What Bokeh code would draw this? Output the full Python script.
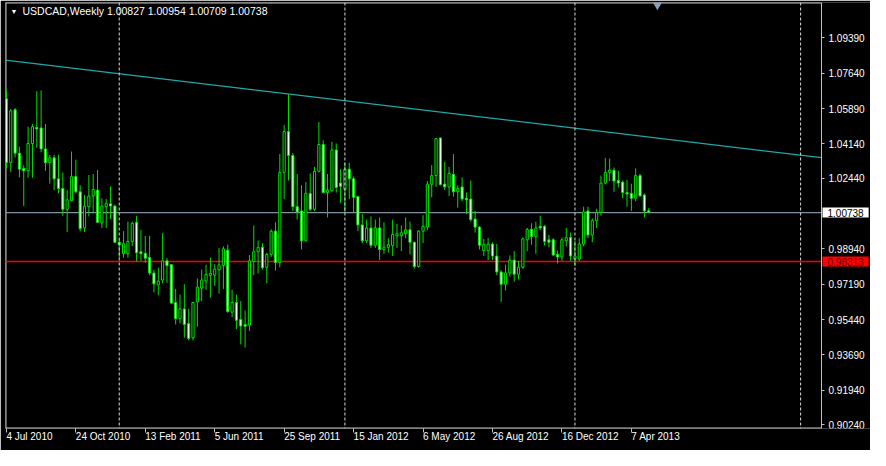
from bokeh.plotting import figure
from bokeh.models import Range1d, FixedTicker, Span, Label, ColumnDataSource
from bokeh.embed import file_html
from bokeh.resources import INLINE

chart_title = "USDCAD,Weekly"

opens = [
    1.0638, 1.0321, 1.0583, 1.0368, 1.0292, 1.0281, 1.0416, 1.0496, 1.0493, 1.0389,
    1.0321, 1.0345, 1.0241, 1.0193, 1.0090, 1.0133, 1.0252, 1.0177, 0.9998, 1.0103,
    1.0156, 1.0185, 1.0023, 1.0103, 1.0118, 1.0106, 0.9927, 0.9870, 0.9870, 0.9931,
    1.0026, 0.9880, 0.9872, 0.9851, 0.9775, 0.9716, 0.9740, 0.9835, 0.9816, 0.9629,
    0.9549, 0.9597, 0.9525, 0.9454, 0.9632, 0.9700, 0.9735, 0.9763, 0.9764, 0.9791,
    0.9812, 0.9888, 0.9581, 0.9629, 0.9545, 0.9520, 0.9517, 0.9832, 0.9880, 0.9902,
    0.9803, 0.9867, 0.9982, 0.9827, 1.0273, 1.0475, 1.0357, 1.0103, 1.0082, 0.9934,
    1.0169, 1.0090, 1.0278, 1.0411, 1.0173, 1.0182, 1.0384, 1.0220, 1.0188, 1.0289,
    1.0241, 1.0154, 1.0013, 0.9934, 0.9998, 0.9912, 0.9998, 0.9891, 0.9902, 0.9910,
    0.9959, 0.9959, 0.9970, 0.9989, 0.9927, 0.9807, 0.9982, 1.0002, 1.0214, 1.0257,
    1.0443, 1.0215, 1.0201, 1.0262, 1.0177, 1.0201, 1.0145, 1.0141, 1.0042, 1.0002,
    0.9886, 0.9886, 0.9918, 0.9859, 0.9780, 0.9719, 0.9775, 0.9839, 0.9769, 0.9803,
    0.9939, 0.9991, 0.9955, 1.0006, 1.0006, 0.9939, 0.9939, 0.9867, 0.9854, 0.9934,
    0.9950, 0.9843, 0.9843, 0.9918, 1.0082, 0.9963, 1.0034, 1.0074, 1.0220, 1.0273,
    1.0284, 1.0233, 1.0225, 1.0173, 1.0169, 1.0145, 1.0257, 1.0161, 1.00827,
]
highs = [
    1.0679, 1.0586, 1.0591, 1.0400, 1.0309, 1.0499, 1.0512, 1.0675, 1.0679, 1.0512,
    1.0360, 1.0360, 1.0360, 1.0273, 1.0185, 1.0376, 1.0336, 1.0209, 1.0161, 1.0260,
    1.0265, 1.0285, 1.0145, 1.0141, 1.0204, 1.0114, 0.9940, 0.9982, 1.0029, 1.0029,
    1.0058, 0.9989, 0.9958, 0.9959, 0.9791, 0.9801, 0.9974, 0.9848, 0.9819, 0.9696,
    0.9668, 0.9719, 0.9597, 0.9632, 0.9748, 0.9792, 0.9816, 0.9851, 0.9819, 0.9899,
    0.9907, 0.9915, 0.9692, 0.9668, 0.9636, 0.9589, 0.9864, 1.0010, 0.9936, 0.9923,
    0.9875, 0.9991, 1.0026, 1.0364, 1.0507, 1.0659, 1.0368, 1.0265, 1.0209, 1.0225,
    1.0268, 1.0300, 1.0523, 1.0432, 1.0265, 1.0424, 1.0416, 1.0289, 1.0321, 1.0321,
    1.0252, 1.0156, 1.0066, 1.0039, 1.0055, 1.0039, 1.0050, 1.0026, 0.9947, 1.0039,
    1.0018, 1.0010, 1.0050, 1.0029, 0.9930, 0.9987, 1.0061, 1.0230, 1.0309, 1.0443,
    1.0447, 1.0325, 1.0300, 1.0364, 1.0209, 1.0249, 1.0173, 1.0233, 1.0082, 1.0007,
    0.9944, 0.9947, 0.9927, 0.9918, 0.9788, 0.9816, 0.9862, 0.9883, 0.9835, 0.9950,
    0.9998, 1.0021, 1.0029, 1.0058, 1.0013, 0.9963, 0.9947, 0.9886, 0.9950, 0.9998,
    0.9975, 0.9934, 0.9947, 1.0103, 1.0103, 1.0045, 1.0093, 1.0257, 1.0345, 1.0341,
    1.0297, 1.0281, 1.0233, 1.0236, 1.0217, 1.0293, 1.0265, 1.0169, 1.00954,
]
lows = [
    1.0293, 1.0274, 1.0347, 1.0249, 1.0106, 1.0246, 1.0246, 1.0394, 1.0373, 1.0281,
    1.0217, 1.0185, 1.0169, 1.0058, 0.9978, 1.0130, 1.0169, 0.9982, 0.9978, 1.0055,
    1.0077, 1.0023, 0.9998, 0.9998, 1.0042, 0.9923, 0.9851, 0.9851, 0.9851, 0.9907,
    0.9832, 0.9835, 0.9826, 0.9764, 0.9679, 0.9664, 0.9724, 0.9727, 0.9621, 0.9520,
    0.9525, 0.9454, 0.9441, 0.9441, 0.9509, 0.9636, 0.9692, 0.9653, 0.9711, 0.9673,
    0.9696, 0.9578, 0.9557, 0.9498, 0.9422, 0.9406, 0.9488, 0.9764, 0.9772, 0.9791,
    0.9724, 0.9854, 0.9788, 0.9803, 1.0141, 1.0233, 1.0082, 1.0039, 0.9891, 0.9931,
    1.0082, 1.0082, 1.0273, 1.0169, 1.0050, 1.0177, 1.0173, 1.0122, 1.0074, 1.0141,
    1.0074, 0.9982, 0.9923, 0.9923, 0.9899, 0.9899, 0.9839, 0.9870, 0.9875, 0.9859,
    0.9899, 0.9883, 0.9947, 0.9867, 0.9796, 0.9801, 0.9923, 0.9987, 1.0150, 1.0201,
    1.0209, 1.0185, 1.0156, 1.0153, 1.0098, 1.0130, 1.0066, 1.0029, 0.9975, 0.9891,
    0.9859, 0.9839, 0.9839, 0.9764, 0.9632, 0.9689, 0.9756, 0.9732, 0.9743, 0.9796,
    0.9883, 0.9915, 0.9870, 0.9987, 0.9912, 0.9902, 0.9859, 0.9822, 0.9835, 0.9907,
    0.9835, 0.9811, 0.9835, 0.9907, 0.9947, 0.9927, 0.9998, 1.0058, 1.0214, 1.0230,
    1.0177, 1.0198, 1.0145, 1.0103, 1.0082, 1.0130, 1.0153, 1.0050, 1.00709,
]
closes = [
    1.0321, 1.0578, 1.0368, 1.0289, 1.0281, 1.0416, 1.0499, 1.0488, 1.0389, 1.0321,
    1.0345, 1.0241, 1.0193, 1.0090, 1.0137, 1.0252, 1.0177, 0.9994, 1.0106, 1.0156,
    1.0188, 1.0026, 1.0106, 1.0118, 1.0106, 0.9927, 0.9915, 0.9920, 0.9931, 1.0021,
    0.9875, 0.9870, 0.9848, 0.9775, 0.9721, 0.9735, 0.9835, 0.9811, 0.9626, 0.9549,
    0.9597, 0.9520, 0.9450, 0.9629, 0.9705, 0.9740, 0.9767, 0.9772, 0.9794, 0.9815,
    0.9894, 0.9584, 0.9629, 0.9541, 0.9512, 0.9511, 0.9835, 0.9880, 0.9902, 0.9801,
    0.9867, 0.9982, 0.9827, 1.0273, 1.0475, 1.0357, 1.0103, 1.0077, 0.9934, 1.0169,
    1.0090, 1.0278, 1.0411, 1.0173, 1.0185, 1.0384, 1.0198, 1.0204, 1.0289, 1.0241,
    1.0150, 1.0013, 0.9934, 0.9998, 0.9912, 0.9998, 0.9891, 0.9903, 0.9915, 0.9966,
    0.9969, 0.9974, 0.9989, 0.9927, 0.9807, 0.9982, 1.0006, 1.0214, 1.0257, 1.0440,
    1.0212, 1.0201, 1.0268, 1.0177, 1.0193, 1.0141, 1.0137, 1.0039, 1.0002, 0.9912,
    0.9915, 0.9918, 0.9859, 0.9780, 0.9719, 0.9775, 0.9839, 0.9769, 0.9803, 0.9944,
    0.9991, 0.9955, 0.9998, 0.9998, 0.9931, 0.9927, 0.9864, 0.9854, 0.9939, 0.9950,
    0.9859, 0.9859, 0.9918, 1.0077, 0.9963, 1.0034, 1.0074, 1.0220, 1.0273, 1.0284,
    1.0230, 1.0220, 1.0173, 1.0166, 1.0145, 1.0257, 1.0156, 1.0082, 1.00738,
]

date_ticks = [0, 16, 32, 48, 64, 80, 96, 112, 128, 144]
date_labels = ["4 Jul 2010", "24 Oct 2010", "13 Feb 2011", "5 Jun 2011", "25 Sep 2011",
               "15 Jan 2012", "6 May 2012", "26 Aug 2012", "16 Dec 2012", "7 Apr 2013"]
price_ticks = [0.90240, 0.91940, 0.93690, 0.95440, 0.97190, 0.98940,
               1.02440, 1.04140, 1.05890, 1.07640, 1.09390]
year_separators = [26, 78, 131, 183]
trend_idx = [0, 148]
trend_price = [1.0828, 1.0448]
bid_price = 1.00738
level_price = 0.98313

FONT = "Liberation Sans"
GREEN = "#00e000"
BORDER = "#c0c0c0"

# layout (pixels)
W, H = 870, 450
LEFT, TOP, BOTTOM = 5, 2, 21
FRAME_W = W - LEFT
FRAME_H = H - TOP - BOTTOM
BAR_PX = 4.34          # pixel step between weekly bars
FIRST_BAR_PX = 0.9     # first bar offset from the frame's left edge
CHART_W = 816          # width of the candle area; the price scale sits right of it

x_start = -FIRST_BAR_PX / BAR_PX
x_end = x_start + FRAME_W / BAR_PX
chart_right = x_start + CHART_W / BAR_PX
y_start, y_end = 0.90049, 1.11141
ppu = FRAME_H / (y_end - y_start)

n = len(closes)
idx = list(range(n))
bull = [c >= o for o, c in zip(opens, closes)]
src = ColumnDataSource(dict(
    x=idx, h=highs, l=lows,
    top=[max(o, c) for o, c in zip(opens, closes)],
    bottom=[min(o, c) for o, c in zip(opens, closes)],
    fill=["#000000" if b else "#e6ffe6" for b in bull],
))

p = figure(width=W, height=H, output_backend="svg", toolbar_location=None,
           title=None, x_range=Range1d(x_start, x_end), y_range=Range1d(y_start, y_end),
           y_axis_location="right",
           background_fill_color="black", border_fill_color="black",
           min_border_left=LEFT, min_border_right=0, min_border_top=TOP,
           min_border_bottom=BOTTOM)
p.grid.visible = False
p.outline_line_color = None

# chart border around the candle area (left, bottom, top)
p.segment(x0=[x_start, x_start, x_start], y0=[y_start, y_start, y_end],
          x1=[x_start, chart_right, chart_right], y1=[y_end, y_start, y_end],
          line_color=BORDER, line_width=2)

# period separators
for s in year_separators:
    p.add_layout(Span(location=s, dimension="height", line_color="#d8d8d8",
                      line_dash="3 2", line_width=1))

# trend line across the candle area
grad = (trend_price[1] - trend_price[0]) / (trend_idx[1] - trend_idx[0])
p.line(x=[x_start, chart_right],
       y=[trend_price[0] + grad * (x_start - trend_idx[0]),
          trend_price[0] + grad * (chart_right - trend_idx[0])],
       line_color="#20a8a8", line_width=1.2)
# bid line and horizontal level
p.line(x=[x_start, chart_right], y=[bid_price, bid_price], line_color="#8090a0", line_width=1.3)
p.line(x=[x_start, chart_right], y=[level_price, level_price], line_color="#ff0000", line_width=1.5)

# candles
p.segment(x0="x", y0="h", x1="x", y1="l", source=src, line_color=GREEN, line_width=1)
p.vbar(x="x", top="top", bottom="bottom", width=0.5, source=src,
       fill_color="fill", line_color=GREEN, line_width=1)

# chart-shift marker at the top
p.scatter(x=[n + 1], y=[y_end - 2 / ppu], marker="inverted_triangle", size=10,
          fill_color="#8aa0b4", line_color=None)

# time axis
xa = p.xaxis[0]
xa.ticker = FixedTicker(ticks=date_ticks)
xa.major_label_overrides = {t: s for t, s in zip(date_ticks, date_labels)}
xa.minor_tick_line_color = None
xa.major_tick_in = 0
xa.major_tick_out = 4
xa.major_tick_line_color = BORDER
xa.axis_line_color = None
xa.major_label_standoff = 4
xa.major_label_orientation = -0.0001
xa.major_label_text_color = "white"
xa.major_label_text_font = FONT
xa.major_label_text_font_size = "10px"

# price axis, fixed at the right edge of the candle area
ya = p.yaxis[0]
ya.fixed_location = chart_right
ya.ticker = FixedTicker(ticks=price_ticks)
ya.major_label_overrides = {t: f"{t:.5f}" for t in price_ticks}
ya.minor_tick_line_color = None
ya.major_tick_in = 0
ya.major_tick_out = 3
ya.major_tick_line_color = BORDER
ya.axis_line_color = BORDER
ya.major_label_standoff = 4
ya.major_label_text_color = "white"
ya.major_label_text_font = FONT
ya.major_label_text_font_size = "10px"

# price boxes on the price scale
p.add_layout(Label(x=chart_right, y=bid_price, x_offset=1, text=f"{bid_price:.5f}",
                   text_baseline="middle", text_align="left", text_color="black",
                   text_font=FONT, text_font_size="10px", background_fill_color="white",
                   padding=(5, 1)))
p.add_layout(Label(x=chart_right, y=level_price, x_offset=1, text=f"{level_price:.5f}",
                   text_baseline="middle", text_align="left", text_color="#6a0000",
                   text_font=FONT, text_font_size="10px", background_fill_color="#ff0000",
                   padding=(5, 1)))

# title line
title_y = y_end - 8.6 / ppu
p.add_layout(Label(x=x_start + 5 / BAR_PX, y=title_y, text="\u25bc",
                   text_baseline="middle", text_color="white", text_font=FONT,
                   text_font_size="7px"))
p.add_layout(Label(x=x_start + 17 / BAR_PX, y=title_y,
                   text=f"{chart_title}  {opens[-1]:.5f} {highs[-1]:.5f} {lows[-1]:.5f} {closes[-1]:.5f}",
                   text_baseline="middle", text_color="white", text_font=FONT,
                   text_font_size="10.5px"))

open("out.html", "w").write(file_html(p, INLINE))
